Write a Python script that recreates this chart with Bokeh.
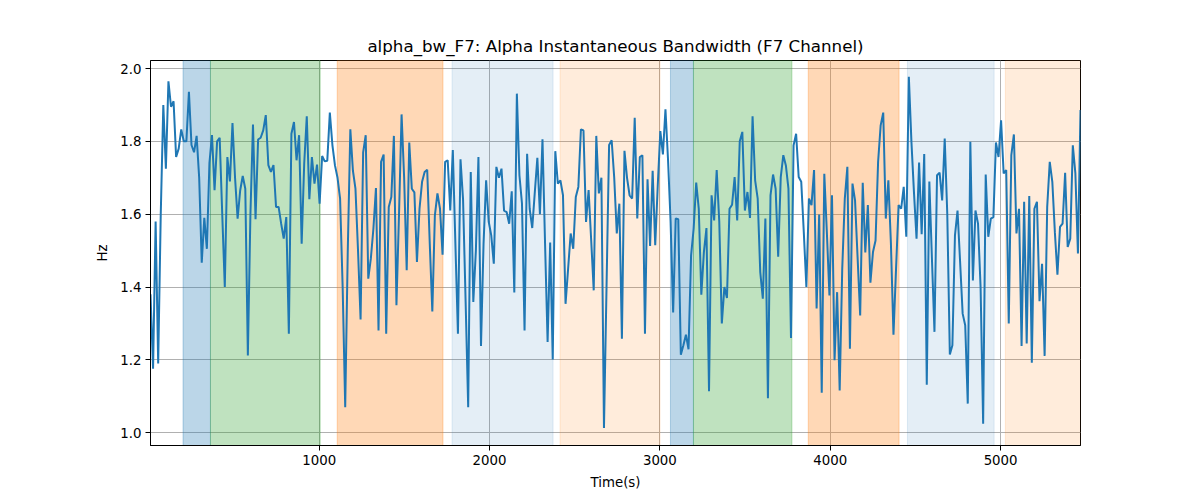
import numpy as np
from bokeh.plotting import figure
from bokeh.models import Range1d, BoxAnnotation, FixedTicker, CustomJSTickFormatter
from bokeh.embed import file_html
from bokeh.resources import INLINE

TITLE = "alpha_bw_F7: Alpha Instantaneous Bandwidth (F7 Channel)"
X_LABEL = "Time(s)"
Y_LABEL = "Hz"

t_start = 10.0
t_end = 5469.0

alpha_bw = [
    1.38, 1.176, 1.58, 1.19, 1.60, 1.90, 1.725, 1.965, 1.895, 1.91, 1.757, 1.78, 1.833, 1.80, 1.80,
    1.936, 1.79, 1.77, 1.815, 1.70, 1.467, 1.59, 1.505, 1.74, 1.817, 1.666, 1.80, 1.81, 1.60, 1.40,
    1.757, 1.69, 1.85, 1.70, 1.588, 1.665, 1.705, 1.67, 1.212, 1.60, 1.846, 1.586, 1.805,
    # segment 2
    1.81, 1.83, 1.872, 1.735, 1.716, 1.735, 1.62, 1.62, 1.574, 1.533, 1.592, 1.272, 1.821, 1.853, 1.748,
    1.817, 1.519, 1.74, 1.869, 1.641, 1.757, 1.684, 1.736, 1.629, 1.76, 1.745, 1.747, 1.879, 1.79, 1.734,
    1.70, 1.643, 1.40, 1.07, 1.50, 1.833, 1.72, 1.67, 1.50, 1.311, 1.77, 1.817, 1.423, 1.478, 1.56,
    # segment 3
    1.672, 1.281, 1.744, 1.764, 1.272, 1.62, 1.647, 1.815, 1.35, 1.60, 1.874, 1.70, 1.446, 1.797, 1.67,
    1.66, 1.469, 1.615, 1.689, 1.716, 1.722, 1.52, 1.333, 1.597, 1.657, 1.615, 1.489, 1.744, 1.748, 1.61,
    1.776, 1.52, 1.272, 1.751, 1.64, 1.36, 1.07, 1.716, 1.359, 1.50, 1.757, 1.238, 1.52, 1.693, 1.58,
    # segment 4
    1.542, 1.464, 1.73, 1.70, 1.725, 1.61, 1.606, 1.574, 1.663, 1.385, 1.931, 1.707, 1.629, 1.281, 1.766,
    1.615, 1.562, 1.66, 1.755, 1.60, 1.806, 1.52, 1.249, 1.522, 1.201, 1.773, 1.684, 1.693, 1.652, 1.354,
    1.45, 1.547, 1.505, 1.647, 1.675, 1.833, 1.83, 1.579, 1.666, 1.53, 1.391, 1.815, 1.657, 1.70, 1.013,
    # segment 5
    1.40, 1.79, 1.803, 1.70, 1.547, 1.629, 1.258, 1.774, 1.70, 1.652, 1.643, 1.865, 1.588, 1.757, 1.762,
    1.272, 1.696, 1.513, 1.719, 1.515, 1.68, 1.828, 1.764, 1.888, 1.75, 1.58, 1.33, 1.588, 1.586, 1.214,
    1.24, 1.269, 1.229, 1.487, 1.56, 1.687, 1.615, 1.379, 1.496, 1.562, 1.114, 1.652, 1.583, 1.721, 1.58,
    # segment 6
    1.30, 1.40, 1.37, 1.615, 1.626, 1.702, 1.583, 1.80, 1.826, 1.61, 1.661, 1.59, 1.869, 1.693, 1.643,
    1.441, 1.368, 1.588, 1.095, 1.652, 1.709, 1.67, 1.483, 1.702, 1.762, 1.734, 1.67, 1.26, 1.789, 1.821,
    1.702, 1.689, 1.55, 1.40, 1.643, 1.625, 1.721, 1.341, 1.599, 1.11, 1.711, 1.55, 1.377, 1.652, 1.199,
    # segment 7
    1.386, 1.116, 1.45, 1.643, 1.73, 1.231, 1.684, 1.638, 1.48, 1.322, 1.686, 1.495, 1.625, 1.412, 1.496,
    1.528, 1.744, 1.844, 1.879, 1.588, 1.693, 1.52, 1.269, 1.45, 1.625, 1.615, 1.675, 1.538, 1.977, 1.80,
    1.66, 1.533, 1.742, 1.545, 1.765, 1.132, 1.69, 1.48, 1.277, 1.707, 1.714, 1.638, 1.808, 1.60, 1.215,
    # segment 8
    1.24, 1.542, 1.61, 1.47, 1.327, 1.295, 1.08, 1.799, 1.418, 1.61, 1.574, 1.40, 1.025, 1.709, 1.538,
    1.588, 1.592, 1.797, 1.757, 1.858, 1.712, 1.721, 1.30, 1.762, 1.819, 1.547, 1.615, 1.238, 1.634, 1.245,
    1.65, 1.192, 1.615, 1.634, 1.361, 1.464, 1.211, 1.62, 1.744, 1.689, 1.55, 1.434, 1.565, 1.574, 1.714,
    1.51, 1.533, 1.789, 1.712, 1.492, 1.886,
]

span_starts = [201, 362, 1106, 1780, 2414, 3062, 3197, 3871, 4453, 5028]
span_ends = [362, 1006, 1727, 2373, 3001, 3197, 3775, 4404, 4962, 5500]
span_colors = ["#1f77b4", "#2ca02c", "#ff7f0e", "#1f77b4", "#ff7f0e",
               "#1f77b4", "#2ca02c", "#ff7f0e", "#1f77b4", "#ff7f0e"]
span_alphas = [0.3, 0.3, 0.3, 0.12, 0.15, 0.3, 0.3, 0.3, 0.12, 0.15]

x_ticks = [1000, 2000, 3000, 4000, 5000]
y_ticks = [1.0, 1.2, 1.4, 1.6, 1.8, 2.0]

times = np.linspace(t_start, t_end, len(alpha_bw))

FONT = "DejaVu Sans"

p = figure(
    output_backend="svg", toolbar_location=None,
    frame_width=930, frame_height=385,
    min_border_left=150, min_border_top=60, min_border_right=104, min_border_bottom=47,
    x_range=Range1d(t_start, t_end), y_range=Range1d(0.965, 2.022),
    title=TITLE,
)
p.title.align = "center"
p.title.text_font = FONT
p.title.text_font_size = "16.7px"
p.title.text_font_style = "normal"
p.title.text_color = "black"
p.title.standoff = 9

for s, e, c, a in zip(span_starts, span_ends, span_colors, span_alphas):
    p.add_layout(BoxAnnotation(left=s, right=e, fill_color=c, fill_alpha=a,
                               line_color=c, line_alpha=a, line_width=1, level="underlay"))

p.line(times, alpha_bw, line_color="#1f77b4", line_width=2)

p.outline_line_color = "black"
p.outline_line_alpha = 1
p.outline_line_width = 1

for ax in (p.xaxis[0], p.yaxis[0]):
    ax.axis_label_text_font = FONT
    ax.axis_label_text_font_size = "13.33px"
    ax.axis_label_text_font_style = "normal"
    ax.axis_label_text_color = "black"
    ax.major_label_text_font = FONT
    ax.major_label_text_font_size = "13.33px"
    ax.major_label_text_color = "black"
    ax.major_tick_out = 5
    ax.major_tick_in = 0
    ax.minor_tick_out = 0
    ax.minor_tick_in = 0
    ax.major_tick_line_color = "black"
    ax.axis_line_color = "black"
    ax.major_label_standoff = 4

p.xaxis.axis_label = X_LABEL
p.yaxis.axis_label = Y_LABEL
p.xaxis.ticker = FixedTicker(ticks=x_ticks)
p.yaxis.ticker = FixedTicker(ticks=y_ticks)
p.yaxis.formatter = CustomJSTickFormatter(code="return tick.toFixed(1);")
p.xaxis.axis_label_standoff = 7
p.yaxis.axis_label_standoff = 7

p.xgrid.grid_line_color = "#b0b0b0"
p.ygrid.grid_line_color = "#b0b0b0"
p.xgrid.grid_line_width = 1
p.ygrid.grid_line_width = 1
p.xgrid.level = "underlay"
p.ygrid.level = "underlay"

p.background_fill_color = "white"
p.border_fill_color = "white"

open("out.html", "w").write(file_html(p, INLINE))
